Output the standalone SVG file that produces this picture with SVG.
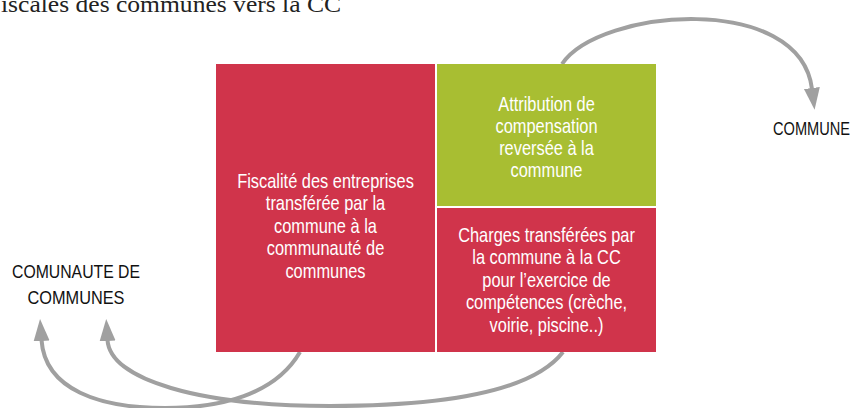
<svg xmlns="http://www.w3.org/2000/svg" width="859" height="408" viewBox="0 0 859 408">
<style>
.box-red{fill:#D0344B}
.box-green{fill:#A8BE32}
.bt{font-family:"Liberation Sans",Arial,sans-serif;font-size:20.5px;fill:#ffffff;text-anchor:middle}
.lbl{font-family:"Liberation Sans",Arial,sans-serif;font-size:18.5px;fill:#111111;text-anchor:middle}
.conn{fill:none;stroke:#A0A0A0;stroke-width:4}
</style>
<defs>
<marker id="ah" markerUnits="userSpaceOnUse" markerWidth="24" markerHeight="18" refX="1" refY="8" orient="auto" viewBox="0 0 24 18">
<path d="M0,0 L22,8 L0,16 Z" fill="#A0A0A0"/>
</marker>
</defs>
<text x="1" y="12" font-family="'Liberation Serif',serif" font-size="24" fill="#222222" textLength="340" lengthAdjust="spacingAndGlyphs">iscales des communes vers la CC</text>
<g id="connectors">
<path class="conn" d="M562,64 C600,8 800,-8 812,89" marker-end="url(#ah)"/>
<path class="conn" d="M300,352 C275,395 220,408 165,408 C100,408 45,390 41.5,340" marker-end="url(#ah)"/>
<path class="conn" d="M563,352 C530,395 430,406 330,406 C200,406 110,380 107.5,340" marker-end="url(#ah)"/>
</g>
<g id="fiscalite">
<rect class="box-red" x="216" y="64" width="219" height="288"/>
<g transform="translate(325.5 0) scale(0.8 1)">
<text class="bt" x="0" y="188">Fiscalité des entreprises</text>
<text class="bt" x="0" y="210.5">transférée par la</text>
<text class="bt" x="0" y="233">commune à la</text>
<text class="bt" x="0" y="255.5">communauté de</text>
<text class="bt" x="0" y="278">communes</text>
</g>
</g>
<g id="attribution">
<rect class="box-green" x="437" y="64" width="219" height="142"/>
<g transform="translate(546.5 0) scale(0.8 1)">
<text class="bt" x="0" y="111">Attribution de</text>
<text class="bt" x="0" y="133">compensation</text>
<text class="bt" x="0" y="155">reversée à la</text>
<text class="bt" x="0" y="177">commune</text>
</g>
</g>
<g id="charges">
<rect class="box-red" x="437" y="208" width="219" height="144"/>
<g transform="translate(546.5 0) scale(0.8 1)">
<text class="bt" x="0" y="242">Charges transférées par</text>
<text class="bt" x="0" y="264.5">la commune à la CC</text>
<text class="bt" x="0" y="287">pour l’exercice de</text>
<text class="bt" x="0" y="309.5">compétences (crèche,</text>
<text class="bt" x="0" y="332">voirie, piscine..)</text>
</g>
</g>
<g id="commune">
<text class="lbl" x="811.5" y="135" textLength="77" lengthAdjust="spacingAndGlyphs">COMMUNE</text>
</g>
<g id="communaute">
<text class="lbl" x="76" y="277.5" textLength="128" lengthAdjust="spacingAndGlyphs">COMUNAUTE DE</text>
<text class="lbl" x="76" y="303.5" textLength="97" lengthAdjust="spacingAndGlyphs">COMMUNES</text>
</g>
</svg>
